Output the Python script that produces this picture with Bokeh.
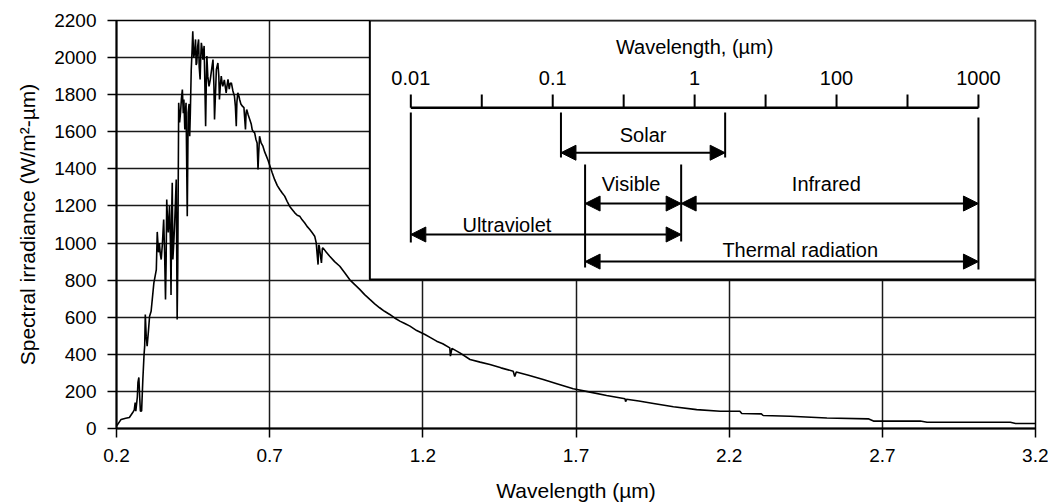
from bokeh.plotting import figure
from bokeh.models import FixedTicker, Range1d, ColumnDataSource, Arrow, NormalHead
from bokeh.core.properties import value
from bokeh.embed import file_html
from bokeh.resources import INLINE

# ---- Main spectrum ----
wavelength = [
    0.200, 0.204, 0.215, 0.230, 0.242, 0.253, 0.258, 0.261, 0.263, 0.268, 0.270, 0.273, 0.276, 0.278,
    0.282, 0.286, 0.290, 0.292, 0.294, 0.297, 0.300, 0.304, 0.308, 0.313, 0.317, 0.322, 0.326, 0.330,
    0.333, 0.337, 0.340, 0.343, 0.346, 0.350, 0.354, 0.357, 0.360, 0.362, 0.364, 0.367, 0.369, 0.373,
    0.376, 0.378, 0.380, 0.382, 0.384, 0.387, 0.390, 0.393, 0.395, 0.398, 0.400, 0.403, 0.406, 0.409,
    0.412, 0.415, 0.418, 0.420, 0.423, 0.425, 0.427, 0.431, 0.434, 0.437, 0.439, 0.441, 0.444, 0.447,
    0.449, 0.452, 0.455, 0.458, 0.460, 0.462, 0.465, 0.468, 0.470, 0.473, 0.475, 0.477, 0.480, 0.482,
    0.486, 0.488, 0.491, 0.493, 0.495, 0.498, 0.502, 0.506, 0.510, 0.515, 0.518, 0.520, 0.523, 0.526,
    0.531, 0.534, 0.536, 0.539, 0.542, 0.545, 0.547, 0.552, 0.558, 0.561, 0.564, 0.568, 0.571, 0.575,
    0.580, 0.585, 0.588, 0.591, 0.593, 0.596, 0.600, 0.602, 0.606, 0.611, 0.616, 0.621, 0.623, 0.625,
    0.630, 0.635, 0.640, 0.643, 0.647, 0.651, 0.655, 0.659, 0.662, 0.664, 0.667, 0.672, 0.678, 0.684,
    0.689, 0.695, 0.700, 0.708, 0.716, 0.725, 0.733, 0.741, 0.749, 0.757, 0.765, 0.774, 0.782, 0.790,
    0.798, 0.806, 0.814, 0.822, 0.831, 0.839, 0.847, 0.852, 0.855, 0.858, 0.860, 0.862, 0.866, 0.869,
    0.872, 0.874, 0.885, 0.896, 0.912, 0.929, 0.945, 0.961, 0.977, 0.994, 1.010, 1.027, 1.043, 1.059,
    1.075, 1.092, 1.108, 1.125, 1.141, 1.158, 1.180, 1.207, 1.225, 1.245, 1.265, 1.288, 1.290, 1.295,
    1.321, 1.354, 1.387, 1.419, 1.455, 1.495, 1.500, 1.505, 1.545, 1.593, 1.640, 1.691, 1.746, 1.800,
    1.860, 1.862, 1.865, 1.905, 1.953, 2.018, 2.094, 2.171, 2.235, 2.241, 2.305, 2.311, 2.399, 2.519,
    2.654, 2.671, 2.824, 2.846, 3.118, 3.135, 3.200,
]
irradiance = [
    15, 22, 49, 55, 59, 86, 100, 140, 93, 170, 248, 275, 160, 93,
    95, 264, 400, 444, 615, 498, 444, 520, 605, 632, 700, 785, 820, 857,
    1060, 950, 1000, 940, 911, 1000, 1127, 950, 696, 900, 1235, 1100, 1057, 1200,
    1010, 720, 1150, 1325, 911, 1000, 1111, 1250, 1343, 588, 875, 1756, 1650, 1703,
    1780, 1828, 1700, 1774, 1612, 1700, 1756, 1145, 1703, 1750, 1576, 1700, 1936, 2050,
    2142, 2000, 2027, 2098, 1960, 1971, 2060, 2098, 1950, 1882, 2000, 2080, 2040, 1989,
    2063, 1900, 1630, 1850, 2009, 1900, 1845, 1880, 1930, 1989, 1850, 1666, 1800, 1936,
    1971, 1900, 1774, 1850, 1900, 1860, 1845, 1880, 1810, 1850, 1882, 1830, 1860, 1864,
    1820, 1792, 1740, 1630, 1760, 1810, 1790, 1774, 1750, 1738, 1730, 1612, 1700, 1720,
    1690, 1666, 1640, 1612, 1600, 1594, 1560, 1540, 1397, 1480, 1576, 1540, 1522, 1490,
    1470, 1445, 1420, 1380, 1343, 1310, 1289, 1270, 1253, 1225, 1199, 1180, 1163, 1150,
    1145, 1125, 1109, 1090, 1073, 1055, 1037, 1001, 940, 884, 990, 983, 930, 893,
    970, 974, 950, 929, 900, 875, 840, 803, 777, 750, 722, 696, 672, 651,
    632, 615, 596, 579, 566, 552, 528, 507, 490, 471, 457, 435, 390, 432,
    408, 372, 358, 345, 327, 309, 280, 305, 287, 264, 240, 214, 196, 178,
    160, 145, 158, 148, 135, 117, 102, 93, 93, 81, 79, 70, 66, 57,
    52, 40, 40, 34, 34, 27, 27,
]

x_ticks = [0.2, 0.7, 1.2, 1.7, 2.2, 2.7, 3.2]
y_ticks = [0, 200, 400, 600, 800, 1000, 1200, 1400, 1600, 1800, 2000, 2200]

# ---- Inset: spectral bands on a decade scale (position in decades from 0.01) ----
inset_box = dict(left=1.027, right=3.2, bottom=803, top=2200)   # main-axis units
inset_title = "Wavelength, (µm)"
inset_tick_pos = [0, 0.5, 1, 1.5, 2, 2.5, 3, 3.5, 4]
inset_label_pos = [0, 1, 2, 3, 4]
inset_labels = ["0.01", "0.1", "1", "100", "1000"]
inset_axis_y = 1729
inset_tick_top = 1801
inset_label_y = 1890
inset_title_y = 2055

band_names = ["Solar", "Visible", "Infrared", "Ultraviolet", "Thermal radiation"]
band_start = [1.058, 1.228, 1.905, 0.0, 1.228]
band_end = [2.215, 1.905, 4.0, 1.905, 4.0]
band_arrow_y = [1487, 1213, 1213, 1046, 900]
band_label_x = [1.637, 1.552, 2.928, 0.677, 2.744]
band_label_y = [1583, 1316, 1316, 1095, 965]

marker_x = [0.0, 1.058, 2.215, 1.228, 1.905, 4.0]
marker_top = [1704, 1704, 1704, 1424, 1424, 1677]
marker_bottom = [1003, 1461, 1461, 868, 1008, 857]

FONT = "Liberation Sans"

p = figure(width=1048, height=504,
           x_range=Range1d(0.2, 3.2), y_range=Range1d(0, 2200),
           output_backend="svg", toolbar_location=None,
           min_border_left=116, min_border_right=13, min_border_top=20, min_border_bottom=76)
p.extra_x_ranges = {"inset": Range1d(-2.074, 4.402)}

p.outline_line_color = "black"
p.outline_line_width = 1.5
p.background_fill_color = "white"
p.border_fill_color = "white"

for ax in (p.xaxis, p.yaxis):
    ax.axis_line_width = 2
    ax.axis_line_color = "black"
    ax.major_tick_line_color = "black"
    ax.major_tick_line_width = 1.5
    ax.major_tick_in = 0
    ax.major_tick_out = 9
    ax.minor_tick_line_color = None
    ax.major_label_text_font = FONT
    ax.major_label_text_font_size = "19px"
    ax.major_label_text_color = "black"
    ax.axis_label_text_font = FONT
    ax.axis_label_text_font_size = "21px"
    ax.axis_label_text_font_style = "normal"
    ax.axis_label_text_color = "black"

p.xaxis.ticker = FixedTicker(ticks=x_ticks)
p.yaxis.ticker = FixedTicker(ticks=y_ticks)
p.xaxis.axis_label = "Wavelength (µm)"
p.yaxis.axis_label = "Spectral irradiance (W/m²-µm)"
p.xaxis.major_label_standoff = 11
p.xaxis.axis_label_standoff = 14
p.yaxis.major_label_standoff = 11
p.yaxis.axis_label_standoff = 12

p.xgrid.ticker = FixedTicker(ticks=x_ticks)
p.ygrid.ticker = FixedTicker(ticks=y_ticks)
for g in (p.xgrid, p.ygrid):
    g.grid_line_color = "#1a1a1a"
    g.grid_line_width = 1.5

p.line(wavelength, irradiance, line_color="black", line_width=1.6)

# inset box
p.quad(left=[inset_box["left"]], right=[inset_box["right"]],
       bottom=[inset_box["bottom"]], top=[inset_box["top"]],
       fill_color="white", line_color="black", line_width=2)

# inset axis
p.segment(x0=[inset_tick_pos[0]], x1=[inset_tick_pos[-1]], y0=[inset_axis_y], y1=[inset_axis_y],
          line_color="black", line_width=2.5, x_range_name="inset")
p.segment(x0=inset_tick_pos, x1=inset_tick_pos,
          y0=[inset_axis_y] * len(inset_tick_pos), y1=[inset_tick_top] * len(inset_tick_pos),
          line_color="black", line_width=2, x_range_name="inset")
p.text(x=inset_label_pos, y=[inset_label_y] * len(inset_label_pos), text=inset_labels,
       text_font=value(FONT), text_font_size="20px", text_align="center", text_baseline="middle",
       text_color="black", x_range_name="inset")
p.text(x=[2.0], y=[inset_title_y], text=[inset_title],
       text_font=value(FONT), text_font_size="20px", text_align="center", text_baseline="middle",
       text_color="black", x_range_name="inset")

# band boundary lines
p.segment(x0=marker_x, x1=marker_x, y0=marker_bottom, y1=marker_top,
          line_color="black", line_width=2, x_range_name="inset")

# band arrows
arrow_src = ColumnDataSource(dict(x0=band_start, x1=band_end, y=band_arrow_y))
p.add_layout(Arrow(source=arrow_src, x_start="x0", y_start="y", x_end="x1", y_end="y",
                   start=NormalHead(size=15, fill_color="black", line_color="black"),
                   end=NormalHead(size=15, fill_color="black", line_color="black"),
                   line_color="black", line_width=2, x_range_name="inset"))

p.text(x=band_label_x, y=band_label_y, text=band_names,
       text_font=value(FONT), text_font_size="20px", text_align="center", text_baseline="middle",
       text_color="black", x_range_name="inset")

open("out.html", "w").write(file_html(p, INLINE))
